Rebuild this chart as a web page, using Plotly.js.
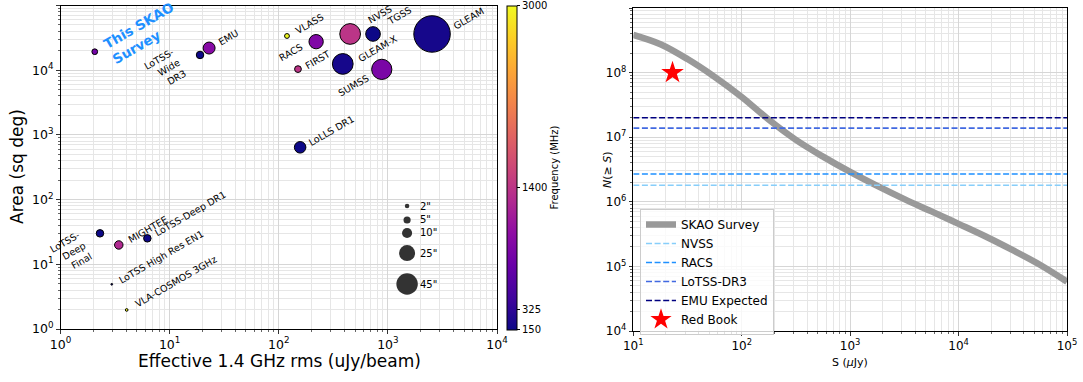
<!DOCTYPE html>
<html><head><meta charset="utf-8">
<script src="https://cdn.plot.ly/plotly-3.0.1.min.js"></script>
<style>html,body{margin:0;padding:0;background:#fff}#chart{width:1083px;height:382px}</style>
</head><body><div id="chart"></div>
<script>
// ---------------- Left panel data ----------------
const surveyNames = ['This SKAO Survey','LoTSS-Wide DR3','EMU','VLASS','RACS','FIRST','NVSS','TGSS','GLEAM','GLEAM-X','SUMSS','LoLLS DR1','LoTSS-Deep Final','MIGHTEE','LoTSS-Deep DR1','LoTSS High Res EN1','VLA-COSMOS 3GHz'];
const surveyLabels = ['This SKAO<br>Survey','LoTSS-<br>Wide<br>DR3','EMU','VLASS','RACS','FIRST','NVSS','TGSS','GLEAM','GLEAM-X','SUMSS','LoLLS DR1','LoTSS-<br>Deep<br>Final','MIGHTEE','LoTSS-Deep DR1','LoTSS High Res EN1','VLA-COSMOS 3GHz'];
const surveyRms = [2.06, 19.0, 23.0, 119, 220, 150, 451, 731, 2540, 386, 879, 157, 2.30, 3.42, 6.25, 2.95, 4.04];
const surveyArea = [19300, 17200, 22000, 33800, 27600, 10400, 36300, 36300, 36300, 12500, 10300, 643, 30.1, 19.9, 25.2, 4.91, 1.97];
const surveyFreqMHz = [800, 144, 944, 3000, 888, 1400, 1400, 150, 200, 200, 843, 54, 144, 1284, 144, 144, 3000];
const surveyResArcsec = [3.2, 5.5, 14, 2.3, 20, 4.5, 42, 21, 130, 42, 40, 13, 5.5, 7, 5.5, 0.3, 0.7];

const sizeLegendRes = [2, 5, 10, 25, 45];
const sizeLegendLabels = ['2"', '5"', '10"', '25"', '45"'];
const sizeLegendRms = [1500, 1500, 1500, 1500, 1500];
const sizeLegendArea = [79.6, 48.4, 30.5, 14.9, 4.96];

const freqTickVals = [150, 325, 1400, 3000];

// ---------------- Right panel data ----------------
const countS = [10, 17.8, 31.6, 56.2, 100, 178, 316, 562, 1000, 1778, 3162, 5623, 10000, 17783, 31623, 56234, 100000];
const countN = [3.84e8, 2.75e8, 1.62e8, 8.6e7, 4.2e7, 1.86e7, 9.1e6, 5.0e6, 2.9e6, 1.76e6, 1.1e6, 7.1e5, 4.55e5, 2.9e5, 1.78e5, 1.06e5, 5.8e4];
const refNames = ['NVSS', 'RACS', 'LoTSS-DR3', 'EMU Expected'];
const refCounts = [1.8e6, 2.7e6, 1.38e7, 2.0e7];
const redBookS = [23];
const redBookN = [1.0e8];

// ---------------- styles ----------------
const FONT = 'DejaVu Sans, sans-serif';
const W = 1083, H = 382;
const refColors = ['#87cefa', '#1e90ff', '#4169e1', '#000080'];
const plasma = [[0, '#0d0887'], [0.1, '#41049d'], [0.2, '#6a00a8'], [0.3, '#8f0da4'], [0.4, '#b12a90'],
  [0.5, '#cc4778'], [0.6, '#e16462'], [0.7, '#f2844b'], [0.8, '#fca636'], [0.9, '#fcce25'], [1, '#f0f921']];
// label placement: side, dx (px), dy (px, up positive)
const labelPlace = [
  ['right', 5, -17], ['left', -11, 10], ['right', 6, -1], ['right', 5, -1], ['left', -11, 2],
  ['right', 4, -3], ['right', 14, 7], ['right', 11, 6], ['right', 18, 1], ['right', 12, -1],
  ['left', -10, -2], ['right', 5, -2], ['left', -5, 5], ['right', 6, -1], ['right', 4, -1],
  ['right', 4, -2], ['right', 5, -1]
];
const diam = r => 3.2 * Math.sqrt(r);

function decades(lo, hi){ const v=[]; for(let e=lo;e<=hi;e++) v.push(Math.pow(10,e)); return v; }
function decadeText(lo, hi){ const v=[]; for(let e=lo;e<=hi;e++) v.push('10<sup>'+e+'</sup>'); return v; }
function minors(lo, hi){ const v=[]; for(let e=lo;e<hi;e++) for(let m=2;m<=9;m++) v.push(m*Math.pow(10,e)); return v; }

function logAxis(lo, hi, domain, anchor, tfs){
  return {
    type: 'log', range: [lo, hi], domain: domain, anchor: anchor,
    tickmode: 'array', tickvals: decades(lo, hi), ticktext: decadeText(lo, hi),
    ticks: 'outside', ticklen: 3.5, tickwidth: 0.8, tickcolor: '#000',
    tickfont: {family: FONT, size: tfs, color: '#000'},
    showline: true, linecolor: '#000', linewidth: 1, mirror: true,
    showgrid: true, gridcolor: '#d6d6d6', gridwidth: 1,
    minor: {tickmode: 'array', tickvals: minors(lo, hi), ticks: 'outside', ticklen: 2, tickwidth: 0.6, tickcolor: '#000',
            showgrid: true, gridcolor: '#e6e6e6', gridwidth: 1},
    zeroline: false, automargin: false, fixedrange: true
  };
}

const data = [];
data.push({
  type: 'scatter', mode: 'markers', xaxis: 'x', yaxis: 'y', showlegend: false,
  x: surveyRms, y: surveyArea, text: surveyNames,
  marker: {
    size: surveyResArcsec.map(diam), color: surveyFreqMHz, colorscale: plasma, cmin: 150, cmax: 3000, opacity: 1,
    line: {color: '#000', width: 1},
    colorbar: {
      thickness: 10, len: 323.5, lenmode: 'pixels', x: 507/W, xanchor: 'left', xpad: 0, ypad: 0,
      y: 1 - 5.5/H, yanchor: 'top', outlinewidth: 1, outlinecolor: '#000',
      tickmode: 'array', tickvals: freqTickVals, ticks: 'outside', ticklen: 3, tickcolor: '#000',
      tickfont: {family: FONT, size: 10, color: '#000'},
      title: {text: 'Frequency (MHz)', side: 'right', font: {family: FONT, size: 10, color: '#000'}}
    }
  }
});
data.push({
  type: 'scatter', mode: 'markers', xaxis: 'x', yaxis: 'y', showlegend: false,
  x: sizeLegendRms, y: sizeLegendArea,
  marker: {size: sizeLegendRes.map(diam), color: '#333333', opacity: 1, line: {width: 0}}
});
data.push({
  type: 'scatter', mode: 'lines', xaxis: 'x2', yaxis: 'y2', name: 'SKAO Survey',
  x: countS, y: countN, line: {color: '#999999', width: 6.5, shape: 'spline', smoothing: 1}
});
refNames.forEach((n, i) => {
  data.push({
    type: 'scatter', mode: 'lines', xaxis: 'x2', yaxis: 'y2', name: n,
    x: [10, 100000], y: [refCounts[i], refCounts[i]],
    line: {color: refColors[i], width: 1.6, dash: '6px,2.6px'}
  });
});
data.push({
  type: 'scatter', mode: 'markers', xaxis: 'x2', yaxis: 'y2', name: 'Red Book',
  x: redBookS, y: redBookN, marker: {symbol: 'star', size: 17, color: '#ff0000', line: {width: 0}}
});

const annotations = [];
surveyLabels.forEach((t, i) => {
  const p = labelPlace[i];
  const isSkao = i === 0;
  annotations.push({
    xref: 'x', yref: 'y', x: Math.log10(surveyRms[i]), y: Math.log10(surveyArea[i]),
    text: isSkao ? '<b>' + t + '</b>' : t, showarrow: false, textangle: -30,
    xanchor: p[0] === 'right' ? 'left' : 'right', yanchor: p[0] === 'right' ? 'bottom' : 'top',
    align: p[0] === 'right' ? 'left' : 'right',
    xshift: p[1], yshift: p[2], borderpad: 0,
    font: isSkao ? {family: FONT, size: 13.5, color: '#1e90ff'} : {family: FONT, size: 9.5, color: '#000'}
  });
});
sizeLegendLabels.forEach((t, i) => {
  annotations.push({
    xref: 'x', yref: 'y', x: Math.log10(sizeLegendRms[i]), y: Math.log10(sizeLegendArea[i]),
    text: t, showarrow: false, xanchor: 'left', yanchor: 'middle', xshift: 12, borderpad: 0,
    font: {family: FONT, size: 10, color: '#000'}
  });
});
annotations.push({xref: 'paper', yref: 'paper', x: 279/W, y: 1 - 361/H, text: 'Effective 1.4 GHz rms (uJy/beam)', showarrow: false,
  xanchor: 'center', yanchor: 'middle', font: {family: FONT, size: 17, color: '#000'}});
annotations.push({xref: 'paper', yref: 'paper', x: 17/W, y: 1 - 167/H, text: 'Area (sq deg)', showarrow: false, textangle: -90,
  xanchor: 'center', yanchor: 'middle', font: {family: FONT, size: 17, color: '#000'}});
annotations.push({xref: 'paper', yref: 'paper', x: 850/W, y: 1 - 362/H, text: 'S (<i>μ</i>Jy)', showarrow: false,
  xanchor: 'center', yanchor: 'middle', font: {family: FONT, size: 11, color: '#000'}});
annotations.push({xref: 'paper', yref: 'paper', x: 607/W, y: 1 - 170/H, text: '<i>N</i>(≥ <i>S</i>)', showarrow: false, textangle: -90,
  xanchor: 'center', yanchor: 'middle', font: {family: FONT, size: 11, color: '#000'}});

const layout = {
  width: W, height: H, margin: {l: 0, r: 0, t: 0, b: 0}, paper_bgcolor: '#fff', plot_bgcolor: '#fff',
  font: {family: FONT, color: '#000'},
  xaxis: logAxis(0, 4, [60.5/W, 497/W], 'y', 12.5),
  yaxis: logAxis(0, 5, [1 - 329/H, 1 - 5.5/H], 'x', 12.5),
  xaxis2: logAxis(1, 5, [633.3/W, 1067/W], 'y2', 12),
  yaxis2: logAxis(4, 9, [1 - 331/H, 1 - 8/H], 'x2', 12),
  showlegend: true,
  legend: {x: 640/W, y: 1 - 209/H, xanchor: 'left', yanchor: 'top', bgcolor: 'rgba(255,255,255,0.8)',
           bordercolor: '#cccccc', borderwidth: 1, font: {family: FONT, size: 12, color: '#000'}, itemwidth: 30, tracegroupgap: 0},
  annotations: annotations
};
Plotly.newPlot('chart', data, layout, {staticPlot: true, displayModeBar: false});
</script>
</body></html>
